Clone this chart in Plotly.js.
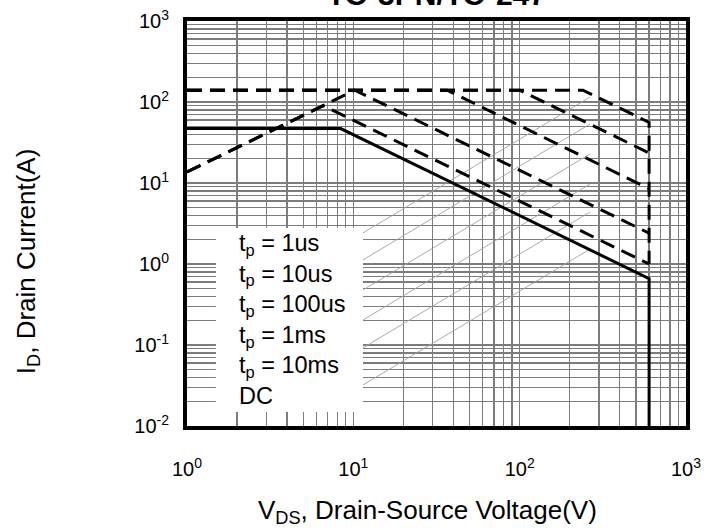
<!DOCTYPE html>
<html>
<head>
<meta charset="utf-8">
<script src="https://cdn.plot.ly/plotly-3.0.1.min.js"></script>
<style>
  html, body { margin: 0; padding: 0; background: #fff; }
  #soa { width: 711px; height: 532px; }
</style>
</head>
<body>
<div id="soa"></div>
<script>
// Safe operating area: drain current vs drain-source voltage, log-log
const seriesNames = [
  't<sub>p</sub> = 1us',
  't<sub>p</sub> = 10us',
  't<sub>p</sub> = 100us',
  't<sub>p</sub> = 1ms',
  't<sub>p</sub> = 10ms',
  'DC'
];

// Boundary break points, V_DS in volts and I_D in amperes
const vds1us   = [1, 240, 600, 600];
const id1us    = [140, 140, 56, 1.0];
const vds10us  = [1, 100, 600];
const id10us   = [140, 140, 23.5];
const vds100us = [1, 36.6, 600];
const id100us  = [140, 140, 8.5];
const vds1ms   = [1, 10.2, 600];
const id1ms    = [13.7, 140, 2.4];
const vds10ms  = [1, 6.6, 600];
const id10ms   = [13.7, 90, 1.0];
const vdsDC    = [1, 8.4, 600, 600];
const idDC     = [47, 47, 0.66, 0.01];

// Faint diagonal guide lines running out of the legend box
const guideVds = [11.4, 265];
const guideId1 = [2.41, 115];
const guideId2 = [1.12, 53.5];
const guideId3 = [0.477, 22.8];
const guideId4 = [0.203, 9.7];
const guideId5 = [0.092, 4.39];
const guideId6 = [0.032, 1.53];

// Axis ticks
const xTickVals = [1, 10, 100, 1000];
const xTickText = ['10<sup>0</sup>', '10<sup>1</sup>', '10<sup>2</sup>', '10<sup>3</sup>'];
const yTickVals = [0.01, 0.1, 1, 10, 100, 1000];
const yTickText = ['10<sup>-2</sup>', '10<sup>-1</sup>', '10<sup>0</sup>', '10<sup>1</sup>', '10<sup>2</sup>', '10<sup>3</sup>'];

const FONT = 'Arial, "Liberation Sans", Helvetica, sans-serif';
const GRID = '#7c7c7c';

const dashed = { color: '#000', width: 3, dash: '15px,8px' };
const solid  = { color: '#000', width: 3 };
const guide  = { color: '#a0a0a0', width: 0.9 };

function boundary(x, y, name, line) {
  return { type: 'scatter', mode: 'lines', x: x, y: y, name: name, line: line,
           showlegend: false, hoverinfo: 'skip' };
}

const traces = [
  boundary(guideVds, guideId1, 'guide', guide),
  boundary(guideVds, guideId2, 'guide', guide),
  boundary(guideVds, guideId3, 'guide', guide),
  boundary(guideVds, guideId4, 'guide', guide),
  boundary(guideVds, guideId5, 'guide', guide),
  boundary(guideVds, guideId6, 'guide', guide),
  boundary(vds1us, id1us, seriesNames[0], dashed),
  boundary(vds10us, id10us, seriesNames[1], dashed),
  boundary(vds100us, id100us, seriesNames[2], dashed),
  boundary(vds1ms, id1ms, seriesNames[3], dashed),
  boundary(vds10ms, id10ms, seriesNames[4], dashed),
  boundary(vdsDC, idDC, seriesNames[5], solid)
];

const axisCommon = {
  type: 'log',
  tickmode: 'array',
  showgrid: true,
  gridcolor: GRID,
  gridwidth: 1.3,
  showline: true,
  linecolor: '#000',
  linewidth: 4,
  mirror: true,
  ticks: '',
  zeroline: false,
  tickfont: { family: FONT, size: 20, color: '#000' },
  minor: { tickmode: 'linear', dtick: 'D1', showgrid: true, gridcolor: GRID, gridwidth: 1.3, ticks: '' }
};

const layout = {
  width: 711,
  height: 532,
  paper_bgcolor: '#fff',
  plot_bgcolor: '#fff',
  margin: { l: 187, r: 25, t: 21, b: 106 },
  showlegend: false,
  xaxis: Object.assign({}, axisCommon, {
    range: [0, 3],
    tickvals: xTickVals,
    ticktext: xTickText,
    ticklabelstandoff: 22
  }),
  yaxis: Object.assign({}, axisCommon, {
    range: [-2, 3],
    tickvals: yTickVals,
    ticktext: yTickText,
    ticklabelstandoff: 10
  }),
  shapes: [
    // white legend panel
    { type: 'rect', xref: 'paper', yref: 'paper', x0: 0.058, x1: 0.3527, y0: 0.0346, y1: 0.4889,
      fillcolor: '#fff', line: { width: 0 }, layer: 'above' }
  ],
  annotations: [
    { xref: 'paper', yref: 'paper', x: 0.1002, y: 0.4889, xanchor: 'left', yanchor: 'top',
      align: 'left', showarrow: false, text: seriesNames.join('<br>'),
      font: { family: FONT, size: 23.5, color: '#000' } },
    { xref: 'paper', yref: 'paper', x: 0.5, y: 1, xanchor: 'center', yanchor: 'bottom', yshift: 8,
      showarrow: false, text: '<b>TO-3PN/TO-247</b>',
      font: { family: FONT, size: 30, color: '#000' } },
    { xref: 'paper', yref: 'paper', x: 0.481, y: -0.21, xanchor: 'center', yanchor: 'middle',
      showarrow: false, text: 'V<sub>DS</sub>, Drain-Source Voltage(V)',
      font: { family: FONT, size: 26, color: '#000' } },
    { xref: 'paper', yref: 'paper', x: -0.3206, y: 0.407, xanchor: 'center', yanchor: 'middle',
      textangle: -90, showarrow: false, text: 'I<sub>D</sub>, Drain Current(A)',
      font: { family: FONT, size: 26, color: '#000' } }
  ]
};

Plotly.newPlot('soa', traces, layout, { staticPlot: true, displayModeBar: false });
</script>
</body>
</html>
